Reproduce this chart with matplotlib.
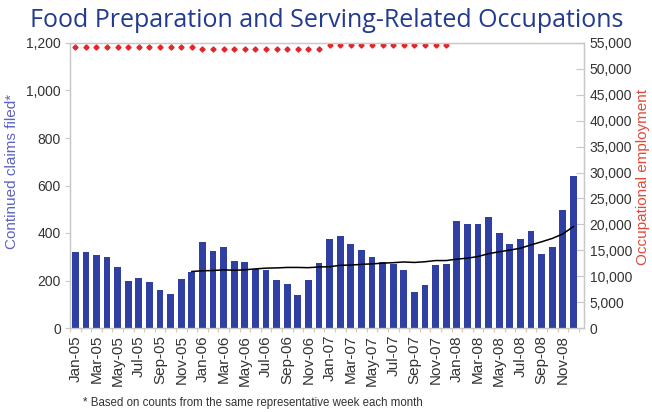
import matplotlib
matplotlib.use("Agg")
import matplotlib.pyplot as plt
from matplotlib.ticker import FuncFormatter, MultipleLocator
import numpy as np

months = [f"{m}-{y:02d}" for y in (5, 6, 7, 8) for m in
          ["Jan", "Feb", "Mar", "Apr", "May", "Jun", "Jul", "Aug", "Sep", "Oct", "Nov", "Dec"]]

claims = [319, 319, 306, 301, 257, 197, 211, 194, 159, 145, 207, 237,
          361, 325, 341, 284, 277, 249, 246, 204, 184, 140, 204, 274,
          373, 388, 355, 327, 299, 278, 271, 245, 152, 180, 267, 271,
          451, 437, 437, 468, 399, 354, 374, 410, 313, 339, 495, 642]

# trend line (Dec-05 .. Dec-08)
trend_start = 11
trend = [238, 241, 242, 245, 243, 245, 249, 252, 253, 255, 255, 254, 257,
         258, 264, 265, 268, 270, 273, 275, 278, 276, 279, 284, 284,
         290, 294, 301, 313, 321, 328, 336, 350, 363, 377, 396, 427]

# occupational employment (Jan-05 .. Dec-07)
employment = [54200] * 12 + [53900] * 12 + [54650] * 12

BAR = "#3040a2"
RED = "#e3262a"
GRID = "#c8c8c8"
TXT = "#333333"

fig = plt.figure(figsize=(6.52, 4.12), dpi=100)
ax = fig.add_axes([70/652, 1-328/412, 514/652, 285/412])
ax2 = ax.twinx()

x = np.arange(len(months))
ax.bar(x, claims, width=0.64, color=BAR, zorder=2)
ax.plot(np.arange(trend_start, trend_start + len(trend)), trend, color="black", lw=1.1, zorder=3)
ax2.plot(np.arange(len(employment)), employment, linestyle="none", marker="D",
         markersize=2.6, color=RED, zorder=4)

ax.set_xlim(-0.47, 48.0)
ax.set_ylim(0, 1200)
ax2.set_ylim(0, 55000)
ax.set_zorder(ax2.get_zorder() + 1)
ax.patch.set_visible(False)

ax.yaxis.set_major_locator(MultipleLocator(200))
ax.yaxis.set_major_formatter(FuncFormatter(lambda v, p: f"{int(v):,}"))
ax2.yaxis.set_major_locator(MultipleLocator(5000))
ax2.yaxis.set_major_formatter(FuncFormatter(lambda v, p: f"{int(v):,}"))

ax.set_xticks(x[::2])
ax.set_xticklabels(months[::2], rotation=90, fontsize=11, color=TXT, family="Liberation Sans")
ax.set_xticks(np.arange(-0.5, 48, 1), minor=True)
ax.tick_params(axis="x", which="major", length=0, pad=5)
ax.tick_params(axis="x", which="minor", length=3, color="#e0c8a8", width=0.8)

for a in (ax, ax2):
    for s in a.spines.values():
        s.set_color(GRID)
        s.set_linewidth(0.9)
ax.tick_params(axis="y", length=3.5, color=GRID, labelsize=10, labelcolor=TXT, pad=3)
ax2.tick_params(axis="y", direction="in", length=6, color=GRID, labelsize=10,
                labelcolor=TXT, pad=4)
for lbl in ax.get_yticklabels() + ax2.get_yticklabels():
    lbl.set_family("Liberation Sans")

ax.set_ylabel("Continued claims filed*", color="#5c62c2", fontsize=11,
              family="Liberation Sans")
ax.yaxis.set_label_coords(-0.100, 0.55)
ax2.set_ylabel("Occupational employment", color="#e04a3c", fontsize=11,
               family="Liberation Sans")
ax2.yaxis.set_label_coords(1.101, 0.53)

fig.text(30/652, 1-27/412, "Food Preparation and Serving-Related Occupations",
         fontsize=18, color="#223b90", family="Open Sans", ha="left", va="baseline")
fig.text(83/652, 1-403/412, "* Based on counts from the same representative week each month",
         fontsize=8.3, color=TXT, family="Liberation Sans", ha="left", va="center")

fig.savefig("out.png", dpi=100)
